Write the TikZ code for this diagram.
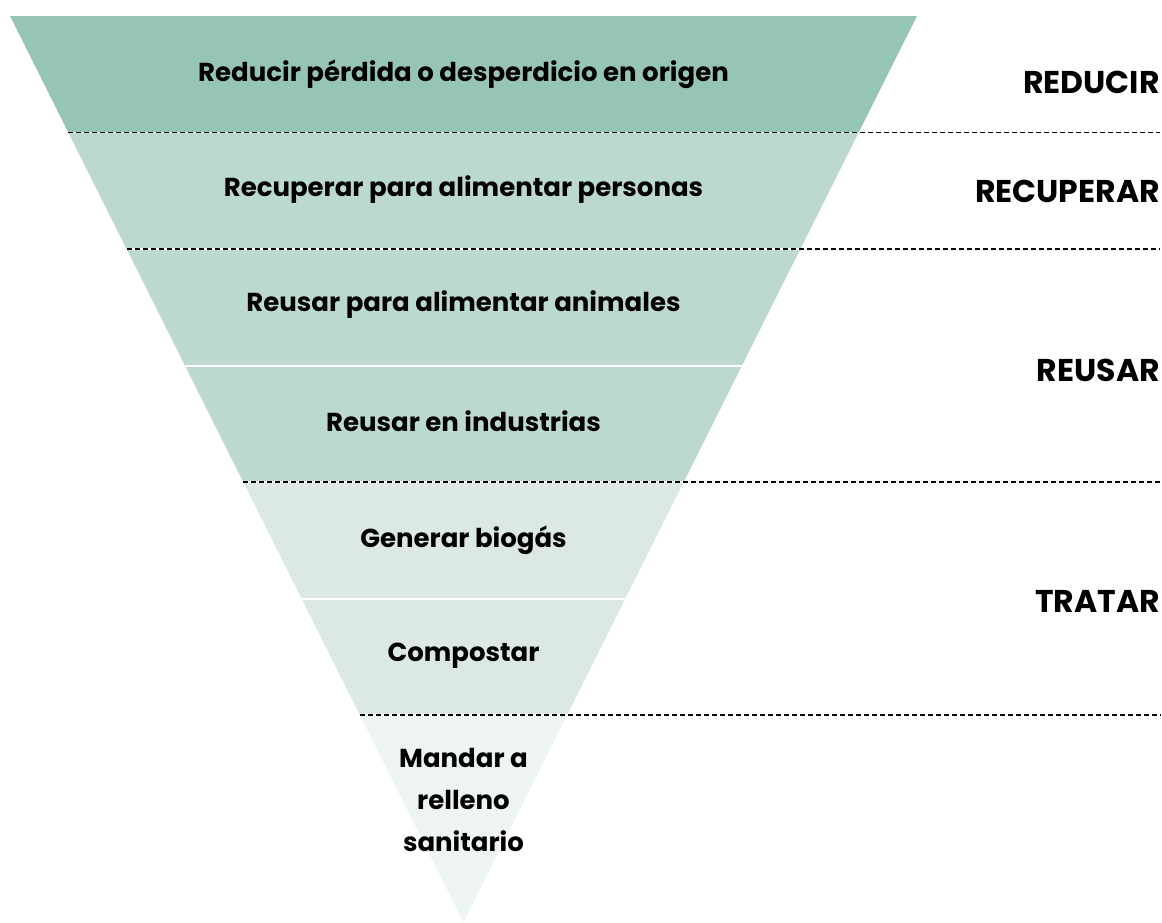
\documentclass[tikz,border=0pt]{standalone}
\usepackage{fontspec}
\setmainfont{Poppins}
\usetikzlibrary{positioning}

\definecolor{bandA}{HTML}{96C5B7}
\definecolor{bandB}{HTML}{BCD9CF}
\definecolor{bandC}{HTML}{DBE8E3}
\definecolor{bandD}{HTML}{EDF4F1}

\begin{document}
\begin{tikzpicture}[x=1pt, y=-1pt,
  band text/.style={font=\fontsize{26}{42}\selectfont\bfseries, align=center},
  stage/.style={font=\fontsize{31.5}{34}\selectfont\bfseries, anchor=east, inner sep=0pt},
  sep/.style={black, line width=1.4pt, dash pattern=on 5pt off 3pt}]

  \useasboundingbox (0,0) rectangle (1162,922);

  % bands of the funnel: top, bottom, colour
  \foreach \t/\b/\c in {16/132.5/bandA, 132.5/249/bandB, 249/365.5/bandB,
                        365.5/482/bandB, 482/598.5/bandC, 598.5/715/bandC,
                        715/922/bandD}{
    \pgfmathsetmacro{\ht}{0.50055*(922-\t)}
    \pgfmathsetmacro{\hb}{0.50055*(922-\b)}
    \fill[\c] (463.5-\ht,\t) -- (463.5+\ht,\t) -- (463.5+\hb,\b) -- (463.5-\hb,\b) -- cycle;
  }

  % white gaps between bands of one stage
  \foreach \y in {365.5, 598.5}{
    \pgfmathsetmacro{\h}{0.50055*(922-\y)}
    \draw[white, line width=2pt] (463.5-\h,\y) -- (463.5+\h,\y);
  }

  % dashed stage borders
  \foreach \y [count=\i] in {132.5, 249, 482, 715}{
    \pgfmathsetmacro{\h}{0.50055*(922-\y)}
    \coordinate (l\i) at (463.5-\h,\y);
    \coordinate (r\i) at (1160,\y);
    \draw[white, line width=1.4pt] (l\i) -- (r\i);
    \draw[sep] (l\i) -- (r\i);
  }

  \node[band text] (reducir) at (463.5,74) {Reducir pérdida o desperdicio en origen};
  \node[band text] (recuperar) at (463.5,190) {Recuperar para alimentar personas};
  \node[band text] (animales) at (463.5,305) {Reusar para alimentar animales};
  \node[band text] (industrias) at (463.5,421) {Reusar en industrias};
  \node[band text] (biogas) at (463.5,540) {Generar biogás};
  \node[band text] (compost) at (463.5,656) {Compostar};
  \node[band text] (relleno) at (463.5,800) {Mandar a\\relleno\\sanitario};

  \node[stage] (s reducir) at (1160,82) {REDUCIR};
  \node[stage] (s recuperar) at (1160,191) {RECUPERAR};
  \node[stage] (s reusar) at (1160,370) {REUSAR};
  \node[stage] (s tratar) at (1160,601) {TRATAR};
\end{tikzpicture}
\end{document}
